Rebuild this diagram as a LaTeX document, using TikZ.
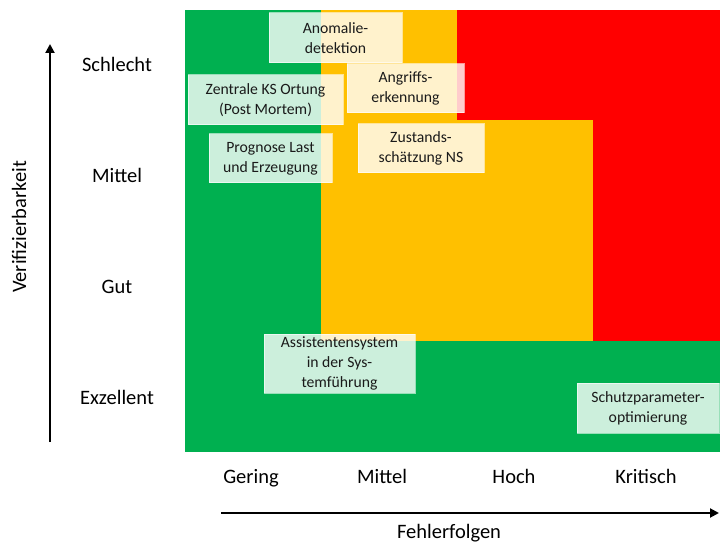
\documentclass[tikz,border=0pt]{standalone}
\usepackage{fontspec}
\setmainfont{Carlito}
\usetikzlibrary{arrows.meta}
\definecolor{cgreen}{HTML}{00B050}
\definecolor{corange}{HTML}{FFC000}
\definecolor{cred}{HTML}{FF0000}
\definecolor{ctext}{HTML}{1A1A1A}
\begin{document}
\begin{tikzpicture}[x=1bp,y=-1bp,
  itembox/.style={fill=white, fill opacity=0.8, text opacity=1, draw=white, draw opacity=0.6,
    line width=1bp, inner sep=0pt, align=center, text=ctext,
    font=\fontsize{15.7bp}{20bp}\selectfont},
  axlabel/.style={anchor=base, inner sep=0pt, text=black, font=\fontsize{20.5bp}{24bp}\selectfont},
  axarrow/.style={line width=2bp, -{Triangle[length=9bp,width=9bp]}}]
\useasboundingbox (0,0) rectangle (720,544);
% matrix cells
\fill[cgreen] (185,10) rectangle (720,452);
\fill[corange] (321,10) rectangle (457,341);
\fill[corange] (457,120) rectangle (593,341);
\fill[cred] (457,10) rectangle (720,120);
\fill[cred] (593,120) rectangle (720,341);
% items
\node[itembox, minimum width=133bp, minimum height=50bp] (anom) at (335.5,38) {Anomalie-\\detektion};
\node[itembox, minimum width=117bp, minimum height=49bp] (angr) at (405.5,88.5) {Angriffs-\\erkennung};
\node[itembox, minimum width=155bp, minimum height=50bp] (zks) at (265.5,100) {Zentrale KS Ortung\\(Post Mortem)};
\node[itembox, minimum width=123bp, minimum height=49bp] (prog) at (270.5,158.5) {Prognose Last\\und Erzeugung};
\node[itembox, minimum width=126bp, minimum height=49bp] (zust) at (421,148.5) {Zustands-\\schätzung NS};
\node[itembox, minimum width=151bp, minimum height=59bp] (assi) at (339.5,363.5) {Assistentensystem\\in der Sys-\\temführung};
\node[itembox, minimum width=142bp, minimum height=50bp] (schutz) at (648,408) {Schutzparameter-\\optimierung};
% vertical axis
\coordinate (vbot) at (50,442);
\coordinate (vtop) at (50,44);
\draw[axarrow] (vbot) -- (vtop);
\node[axlabel, rotate=90] (vlab) at (26,227) {Verifizierbarkeit};
\node[axlabel] (schl) at (117,72) {Schlecht};
\node[axlabel] (mitv) at (117,183) {Mittel};
\node[axlabel] (gut) at (117,293) {Gut};
\node[axlabel] (exz) at (117,404) {Exzellent};
% horizontal axis
\coordinate (hl) at (221,513);
\coordinate (hr) at (719,513);
\draw[axarrow] (hl) -- (hr);
\node[axlabel] (ger) at (251,483) {Gering};
\node[axlabel] (mith) at (382,483) {Mittel};
\node[axlabel] (hoch) at (514,483) {Hoch};
\node[axlabel] (krit) at (646,483) {Kritisch};
\node[axlabel] (hlab) at (449,538) {Fehlerfolgen};
\end{tikzpicture}
\end{document}
